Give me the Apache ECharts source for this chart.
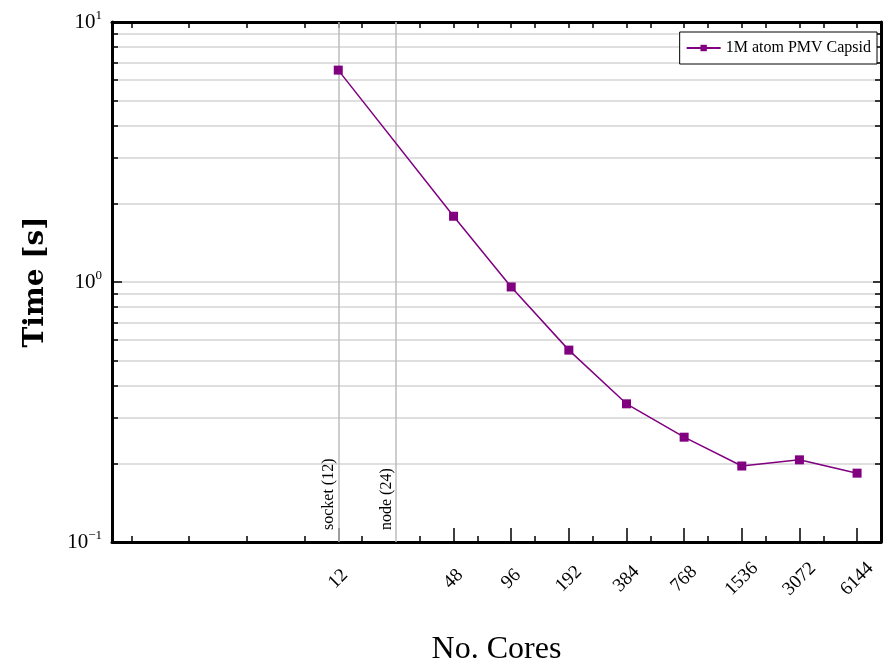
<!DOCTYPE html>
<html>
<head>
<meta charset="utf-8">
<script src="https://cdn.jsdelivr.net/npm/echarts@6/dist/echarts.min.js"></script>
<style>
  html, body { margin: 0; padding: 0; background: #fff; }
  #chart { width: 886px; height: 666px; }
</style>
</head>
<body>
<div id="chart"></div>
<script>
const chart = echarts.init(document.getElementById('chart'));

// data
const cores = [12, 48, 96, 192, 384, 768, 1536, 3072, 6144];
const times = [6.53, 1.79, 0.957, 0.547, 0.340, 0.253, 0.196, 0.207, 0.184];
const seriesName = '1M atom PMV Capsid';
// x minor ticks at powers of two
const xMinor = [1, 2, 4, 8, 16, 32, 64, 128, 256, 512, 1024, 2048, 4096];
// y ticks
const yMajor = [0.1, 1, 10];
const yMinor = [0.2, 0.3, 0.4, 0.5, 0.6, 0.7, 0.8, 0.9, 1, 2, 3, 4, 5, 6, 7, 8, 9];
const marks = [
    { x: 12, text: 'socket (12)' },
    { x: 24, text: 'node (24)' }
];

const serif = 'Liberation Serif';
const purple = '#800080';

function xBase(pos, custom, len, label, line) {
    return {
        type: 'log',
        logBase: 2,
        min: 0.79,
        max: 8192,
        position: pos,
        axisLine: { show: !!line, lineStyle: { color: '#000', width: 3 } },
        axisTick: { show: true, inside: true, length: len, customValues: custom,
            lineStyle: { color: '#000', width: 1.5 } },
        axisLabel: label ? {
            show: true, customValues: custom, rotate: 45, margin: 37,
            align: 'center', verticalAlign: 'middle',
            formatter: v => String(v),
            fontFamily: serif, fontSize: 19, color: '#000'
        } : { show: false },
        splitLine: { show: false }
    };
}

function yBase(pos, custom, len, label, split, line) {
    return {
        type: 'log',
        logBase: 10,
        min: 0.1,
        max: 10,
        position: pos,
        axisLine: { show: !!line, lineStyle: { color: '#000', width: 3 } },
        axisTick: { show: true, inside: true, length: len, customValues: custom,
            lineStyle: { color: '#000', width: 1.5 } },
        axisLabel: label ? {
            show: true, customValues: custom, margin: 10,
            formatter: function (v) {
                const e = Math.round(Math.log10(v));
                return '{b|10}{s|' + (e < 0 ? '\u2212' : '') + Math.abs(e) + '}';
            },
            rich: {
                b: { fontFamily: serif, fontSize: 21, color: '#000' },
                s: { fontFamily: serif, fontSize: 13, color: '#000', padding: [0, 0, 12, 0] }
            }
        } : { show: false },
        splitLine: split ? { show: true, lineStyle: { color: '#d4d4d4', width: 1.5 } } : { show: false }
    };
}

const option = {
    backgroundColor: '#fff',
    animation: false,
    grid: {
        left: 112, top: 22, right: 5, bottom: 124,
        outerBoundsMode: 'none',
        containLabel: false
    },
    legend: {
        right: 9, top: 32,
        data: [seriesName],
        backgroundColor: '#fff',
        borderColor: '#000',
        borderWidth: 1,
        borderRadius: 0,
        padding: [8, 6, 8, 6],
        itemWidth: 34,
        itemHeight: 8,
        itemGap: 0,
        textStyle: { fontFamily: serif, fontSize: 16, color: '#000' }
    },
    xAxis: [
        Object.assign(xBase('bottom', cores, 14, true, true), {
            name: 'No. Cores', nameLocation: 'middle', nameGap: 92,
            nameTextStyle: { fontFamily: serif, fontSize: 32, color: '#000' }
        }),
        xBase('bottom', xMinor, 6, false, false),
        xBase('top', cores, 6, false, true),
        xBase('top', xMinor, 6, false, false)
    ],
    yAxis: [
        Object.assign(yBase('left', yMajor, 10, true, false, true), {
            name: 'Time [s]', nameLocation: 'middle', nameGap: 62,
            nameTextStyle: { fontFamily: 'DejaVu Serif', fontSize: 28, fontWeight: 'bold', color: '#000' }
        }),
        yBase('left', yMinor, 6, false, true, false),
        yBase('right', yMajor, 8, false, false, true),
        yBase('right', yMinor, 6, false, false, false)
    ],
    series: [{
        name: seriesName,
        type: 'line',
        data: cores.map((c, i) => [c, times[i]]),
        symbol: 'rect',
        symbolSize: 9,
        lineStyle: { color: purple, width: 1.5 },
        itemStyle: { color: purple },
        z: 5,
        markLine: {
            silent: true,
            symbol: 'none',
            lineStyle: { color: '#bdbdbd', width: 1.5, type: 'solid' },
            label: {
                show: true,
                position: 'insideStartTop',
                distance: [12, 1],
                fontFamily: serif,
                fontSize: 16,
                color: '#000',
                formatter: '{b}'
            },
            data: marks.map(m => ({ xAxis: m.x, name: m.text }))
        }
    }]
};

chart.setOption(option);
</script>
</body>
</html>
